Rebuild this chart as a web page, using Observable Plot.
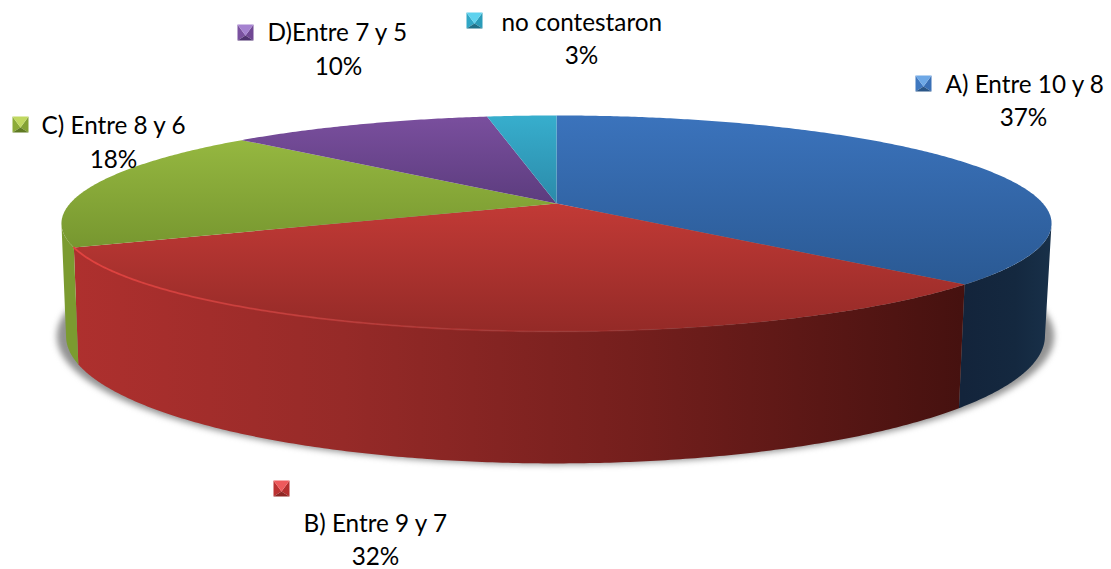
<!DOCTYPE html>
<html>
<head>
<meta charset="utf-8">
<script src="https://cdn.jsdelivr.net/npm/d3@7"></script>
<script src="https://cdn.jsdelivr.net/npm/@observablehq/plot@0.6"></script>
<style>html,body{margin:0;padding:0;background:#fff}svg{display:block}</style>
</head>
<body>
<div id="chart"></div>
<script>
// Data
const categories = ["A) Entre 10 y 8", "B) Entre 9 y 7", "C) Entre 8 y 6", "D)Entre 7 y 5", "no contestaron"];
const shares = [36.9, 31.7, 18.4, 10.3, 2.7];

// Layout and styling (kept apart from the data)
const W = 1111, H = 569;
const labelLayout = [
  {nameX: 945, nameY: 85,  pctX: 1023, pctY: 118, mx: 915, my: 75},
  {nameX: 303, nameY: 524, pctX: 375,  pctY: 557, mx: 273, my: 480},
  {nameX: 41,  nameY: 126, pctX: 113,  pctY: 160, mx: 12,  my: 116},
  {nameX: 267, nameY: 33,  pctX: 338,  pctY: 67,  mx: 237, my: 24},
  {nameX: 501, nameY: 23,  pctX: 581,  pctY: 56,  mx: 466, my: 12}
];
const topStops = [
  [115, 285, "#3b73bc", "#2a5993"],
  [203, 331, "#c23a36", "#942a27"],
  [140, 250, "#95b740", "#76962f"],
  [115, 203, "#7a4f9e", "#5c3c7e"],
  [115, 203, "#37aecd", "#2b8aa9"]
];
const markerTones = [
  {t: "#6ea8e6", l: "#3f78c0", r: "#3a70b6", b: "#2a5688"},
  {t: "#ee5a5c", l: "#bc3232", r: "#b42e2e", b: "#8e2523"},
  {t: "#c0d860", l: "#8cab38", r: "#84a234", b: "#5f7a22"},
  {t: "#a582d0", l: "#7a519f", r: "#704894", b: "#4f3270"},
  {t: "#5ed2ee", l: "#30a7c6", r: "#2a9cb9", b: "#1e7088"}
];

// Perspective disc geometry
const disc = {cx: 556, cy: 203, A: 486.5, B: 104.3, k: 0.185};
const base = {cx: 555, cy: 312, A: 481, B: 123, k: 0.185};
const shadow = {cx: 555, cy: 312, A: 490, B: 124, k: 0.185};
const project = (g, deg) => {
  const a = deg * Math.PI / 180, u = Math.sin(a), v = Math.cos(a), w = 1 + g.k * v;
  return {x: g.cx + g.A * u / w, y: g.cy - g.B * v / w};
};
const arc = (g, from, to) => {
  const n = Math.max(2, Math.ceil(Math.abs(to - from) * 2));
  return d3.range(n + 1).map(i => project(g, from + (to - from) * i / n));
};

const total = d3.sum(shares);
let running = 0;
const slices = shares.map((s, i) => {
  const start = running / total * 360;
  running += s;
  return {i, start, end: running / total * 360};
});
const visFrom = Math.acos(-disc.k) * 180 / Math.PI, visTo = 360 - visFrom;

const topPolygon = s => [{x: disc.cx, y: disc.cy}, ...arc(disc, s.start, s.end)];
const sidePolygon = s => {
  const a = Math.max(s.start, visFrom), b = Math.min(s.end, visTo);
  if (b <= a) return null;
  return [...arc(disc, a, b), ...arc(base, b, a)];
};

const sideFill = ["url(#sideBlue)", "url(#sideRed)", "#7b9b30", "#5c3c7e", "#2b8aa9"];

const defs = () => {
  const d = d3.create("svg:defs");
  const grad = (id, horizontal, from, to, stops) => {
    const g = d.append("linearGradient").attr("id", id).attr("gradientUnits", "userSpaceOnUse")
      .attr("x1", horizontal ? from : 0).attr("x2", horizontal ? to : 0)
      .attr("y1", horizontal ? 0 : from).attr("y2", horizontal ? 0 : to);
    stops.forEach(([o, c, op]) => {
      const st = g.append("stop").attr("offset", o).attr("stop-color", c);
      if (op != null) st.attr("stop-opacity", op);
    });
  };
  topStops.forEach((c, i) => grad("top" + i, false, c[0], c[1], [[0, c[2]], [1, c[3]]]));
  grad("sideRed", true, 75, 966, [[0, "#ae302e"], [0.3, "#962a28"], [0.62, "#751f1d"], [1, "#45110f"]]);
  grad("sideBlue", true, 962, 1050, [[0, "#13243b"], [0.6, "#14283f"], [1, "#183049"]]);
  grad("rimGlow", true, 75, 800, [[0, "#e2423f", 1], [0.35, "#c9403e", 0.75], [1, "#a03230", 0]]);
  return d.node();
};

const markerPolys = [];
labelLayout.forEach((p, i) => {
  const x0 = p.mx, x1 = p.mx + 16, y0 = p.my, y1 = p.my + 16;
  const c = {x: p.mx + 8, y: p.my + 11};
  const tone = markerTones[i];
  [["l", [[x0, y0], [x0, y1]]], ["r", [[x1, y0], [x1, y1]]], ["b", [[x0, y1], [x1, y1]]], ["t", [[x0, y0], [x1, y0]]]].forEach(([side, pts]) => {
    const id = i + side;
    [...pts.map(([x, y]) => ({x, y})), c].forEach(q => markerPolys.push({...q, id, tone: tone[side]}));
  });
});

const nameRows = categories.map((name, i) => ({name, x: labelLayout[i].nameX, y: labelLayout[i].nameY}));
const pctRows = shares.map((s, i) => ({pct: d3.format(".0f")(s) + "%", x: labelLayout[i].pctX, y: labelLayout[i].pctY}));

const poly = (pts, fill, extra = {}) => Plot.line(pts, {x: "x", y: "y", fill, stroke: "none", curve: "linear", ...extra});

const chart = Plot.plot({
  width: W, height: H,
  margin: 0,
  x: {domain: [0, W], range: [0, W], axis: null},
  y: {domain: [0, H], range: [0, H], axis: null},
  color: {type: "identity"},
  style: {background: "#fff", fontFamily: "Lato, 'Open Sans', sans-serif"},
  marks: [
    defs,
    poly(arc(shadow, 0, 360), "#777777", {imageFilter: "blur(3px)", fillOpacity: 0.8}),
    ...slices.map(sidePolygon).map((pts, i) => pts ? poly(pts, sideFill[i]) : null).filter(Boolean),
    ...slices.map((s, i) => poly(topPolygon(s), `url(#top${i})`)),
    Plot.line(arc(disc, slices[1].start, slices[1].end), {x: "x", y: "y", stroke: "url(#rimGlow)", strokeWidth: 1.8, curve: "linear"}),
    Plot.line(markerPolys, {x: "x", y: "y", z: "id", fill: "tone", stroke: "none", curve: "linear"}),
    Plot.text(nameRows, {x: "x", y: "y", text: "name", textAnchor: "start", fontSize: 24.3, fill: "#000"}),
    Plot.text(pctRows, {x: "x", y: "y", text: "pct", textAnchor: "middle", fontSize: 24.3, fill: "#000"})
  ]
});
document.getElementById("chart").append(chart);
</script>
</body>
</html>
